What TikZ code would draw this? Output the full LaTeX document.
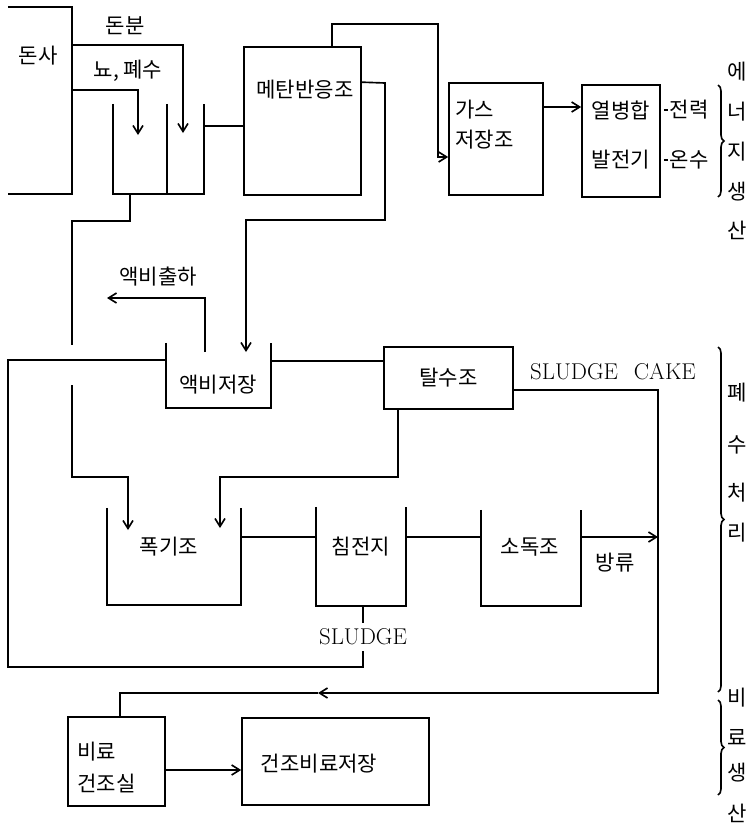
\documentclass[tikz,border=0pt]{standalone}
\usepackage{fontspec}
\newfontfamily\kr{Noto Sans CJK KR}
\usetikzlibrary{arrows.meta,calc,decorations.pathreplacing}
\newcommand{\px}{0.03cm}
\tikzset{
  pipe/.style={line width=1.4pt},
  flow/.style={pipe,-{Straight Barb[length=2.4mm,width=3mm]}},
  box/.style 2 args={draw,pipe,inner sep=0pt,minimum width=#1*\px,minimum height=#2*\px},
  tank/.style 2 args={inner sep=0pt,minimum width=#1*\px,minimum height=#2*\px},
  word/.style={font=\kr\fontsize{18}{21}\selectfont,inner sep=1pt},
  latin/.style={font=\fontsize{19.5}{23}\selectfont,inner sep=5pt},
  brace/.style={pipe,decorate,decoration={brace,amplitude=0.18cm}}
}

\begin{document}
\begin{tikzpicture}[x=\px,y=-\px]
\useasboundingbox (0,0) rectangle (748,834);

% houses, tanks and boxes
\node[tank={64}{187}] (pig) at (40,100.5) {};
\node[word] (pigtxt) at (38,56) {돈사};
\node[tank={91}{90}] (pit) at (158.5,149) {};
\node[box={117}{148}] (meth) at (302.5,121) {};
\node[word] (methtxt) at (305,90) {메탄반응조};
\node[box={94}{112}] (gas) at (496,139) {};
\node[word,anchor=west] (gastxt1) at (454,110) {가스};
\node[word,anchor=west] (gastxt2) at (454,140) {저장조};
\node[box={78}{112}] (chp) at (621,141) {};
\node[word] (chptxt1) at (621,110) {열병합};
\node[word] (chptxt2) at (621,160) {발전기};
\node[word] (pwr) at (689,110) {전력};
\node[word] (hw) at (689,160) {온수};

\node[tank={105}{65}] (ltank) at (218.5,375.5) {};
\node[word] (ltanktxt) at (218,385) {액비저장};
\node[box={129}{62},word] (dew) at (448.5,378) {탈수조};

\node[tank={134}{97}] (aer) at (174,556.5) {};
\node[word] (aertxt) at (169,547) {폭기조};
\node[tank={90}{99}] (clar) at (361,556.5) {};
\node[word] (clartxt) at (361,547) {침전지};
\node[tank={100}{96}] (dis) at (531,558) {};
\node[word] (distxt) at (530,547) {소독조};

\node[box={97}{89}] (dry) at (116.5,761.5) {};
\node[word,anchor=west] (drytxt1) at (76,752) {비료};
\node[word,anchor=west] (drytxt2) at (76,783) {건조실};
\node[box={187}{87}] (store) at (335.5,761.5) {};
\node[word] (storetxt) at (319,764) {건조비료저장};

% labels
\node[word] (dung) at (125,26) {돈분};
\node[word] (urine) at (128,71) {뇨, 폐수};
\node[word] (shiptxt) at (158,277) {액비출하};
\node[latin] (cake) at (613,372) {SLUDGE\hspace{0.7em}CAKE};
\node[latin] (sl) at (363,637) {SLUDGE};
\node[word] (outtxt) at (615,563) {방류};

% free ends
\coordinate (pitin1) at (183,133);
\coordinate (pitin2) at (138,135);
\coordinate (lin) at (246,352);
\coordinate (lout) at (205,352);
\coordinate (ship) at (107,298);
\coordinate (aerin1) at (128,530);
\coordinate (aerin2) at (220,528);
\coordinate (drain) at (658,537);
\coordinate (back) at (318,693);

% walls
\draw[pipe] (pig.north west) -- (pig.north east) -- (pig.south east) -- (pig.south west);
\foreach \t in {pit,ltank,aer,clar,dis}
  \draw[pipe] (\t.north west) -- (\t.south west) -- (\t.south east) -- (\t.north east);
\draw[pipe] ($(pit.north west)!0.59!(pit.north east)$) -- ($(pit.south west)!0.59!(pit.south east)$);

% feed
\draw[flow] (pig.north east) ++(0,38) -| (pitin1);
\draw[flow] (pig.north east) ++(0,83) -| (pitin2);
\draw[pipe] (pit.north east) ++(0,22) coordinate (p1) -- (p1 -| meth.west);

% gas
\draw[flow] (meth.north west) ++(89,0) |- (438,24) |- (gas.west |- 0,157);
\draw[flow] (gas.east |- 0,107) -- (chp.west |- 0,107);
\draw[pipe] ($(chp.east |- pwr.west)+(3,0)$) -- (pwr.west);
\draw[pipe] ($(chp.east |- hw.west)+(3,0)$) -- (hw.west);

% digestate
\draw[flow] (meth.north east) ++(0,36) -- (385,83) |- (246,220) -- (lin);
\draw[flow] (lout) |- (ship);
\draw[pipe] (pit.south west) ++(17,0) -- ++(0,27) -| (72,345);
\draw[flow] (72,385) |- (128,477) -- (aerin1);

% sludge
\draw[pipe] (clar.south -| sl) -- (sl.north);
\draw[pipe] (sl.south) -- (363,667) -| (8,360) -- (ltank.west |- 0,360);
\draw[pipe] (ltank.east |- 0,361) -- (dew.west |- 0,361);
\draw[flow] (dew.south west) ++(15,0) |- (220,477) -- (aerin2);
\draw[flow] (dew.east |- 0,390) -| (658,693) -- (back);
\draw[pipe] (back) -| (dry.north -| 120,0);

% treatment
\draw[pipe] (aer.east |- 0,537) -- (clar.west |- 0,537);
\draw[pipe] (clar.east |- 0,537) -- (dis.west |- 0,537);
\draw[flow] (dis.east |- 0,537) -- (drain);

% fertilizer
\draw[flow] (dry.east |- 0,770) -- (store.west |- 0,770);

% braces
\draw[brace] (718,85) -- (718,197);
\draw[brace] (718,347) -- (718,692);
\draw[brace] (718,700) -- (718,795);
\foreach \c/\y in {에/72,너/112,지/152,생/192,산/230,폐/393,수/445,처/493,리/533,비/698,료/737,생/773,산/813}
  \node[word] (side\y) at (737,\y) {\c};
\end{tikzpicture}
\end{document}
